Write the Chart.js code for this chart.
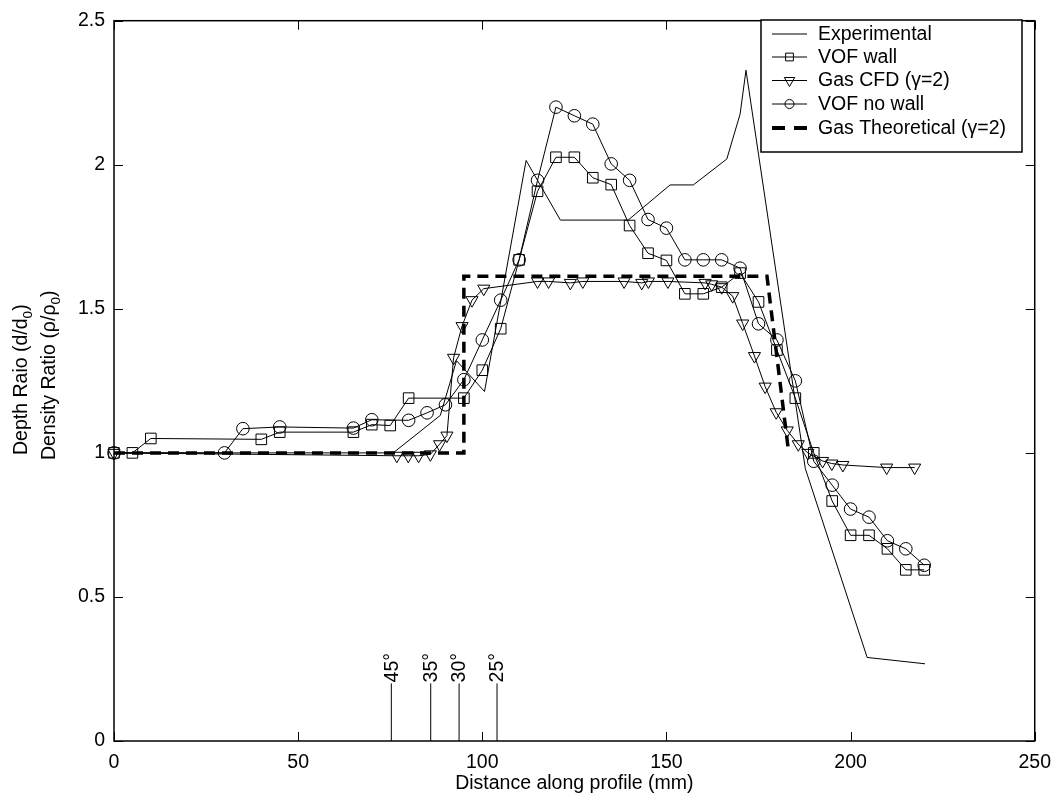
<!DOCTYPE html>
<html>
<head>
<meta charset="utf-8">
<script src="https://cdn.jsdelivr.net/npm/chart.js@4.4.0/dist/chart.umd.min.js"></script>
<style>
html, body { margin: 0; padding: 0; background: #fff; }
#wrap { width: 1061px; height: 802px; }
</style>
</head>
<body>
<div id="wrap"><canvas id="profileChart" width="1061" height="802"></canvas></div>
<script>
// values (x = mm along profile, y = ratio)
var expX = [0, 75.8, 88.6, 93.0, 100.6, 111.9, 121.2, 139.6, 151.0, 157.3, 166.4, 170.0, 171.6, 187.7, 204.5, 220.2];
var expY = [1.0, 1.0, 1.13, 1.32, 1.213, 2.015, 1.808, 1.808, 1.93, 1.93, 2.02, 2.176, 2.328, 0.946, 0.29, 0.268];

var wallX = [0, 5, 10, 40, 45, 65, 70, 75, 80, 95, 100, 105, 110, 115, 120, 125, 130, 135, 140, 145, 150, 155, 160, 165, 170, 175, 180, 185, 190, 195, 200, 205, 210, 215, 220];
var wallY = [1.0, 1.0, 1.05, 1.047, 1.072, 1.072, 1.098, 1.095, 1.19, 1.19, 1.287, 1.431, 1.67, 1.908, 2.026, 2.026, 1.955, 1.931, 1.789, 1.693, 1.668, 1.552, 1.552, 1.575, 1.624, 1.524, 1.357, 1.19, 1.0, 0.833, 0.714, 0.714, 0.667, 0.594, 0.594];

var cfdX = [0, 76.8, 79.9, 82.7, 85.9, 88.4, 90.4, 92.2, 94.5, 97.2, 100.4, 115.0, 118.0, 123.9, 127.3, 138.5, 143.3, 145.1, 150.4, 160.5, 162.3, 165.0, 168.0, 170.7, 173.9, 176.8, 179.8, 182.8, 185.8, 188.4, 192.4, 194.9, 197.9, 209.8, 217.4];
var cfdY = [1.0, 0.99, 0.99, 0.99, 0.995, 1.03, 1.06, 1.33, 1.44, 1.53, 1.57, 1.595, 1.595, 1.59, 1.595, 1.595, 1.59, 1.595, 1.595, 1.59, 1.585, 1.575, 1.544, 1.449, 1.336, 1.23, 1.141, 1.078, 1.03, 1.0, 0.972, 0.963, 0.958, 0.949, 0.949];

var noWallX = [0, 30, 35, 45, 65, 70, 80, 85, 90, 95, 100, 105, 110, 115, 120, 125, 130, 135, 140, 145, 150, 155, 160, 165, 170, 175, 180, 185, 190, 195, 200, 205, 210, 215, 220];
var noWallY = [1.0, 1.0, 1.084, 1.09, 1.086, 1.115, 1.113, 1.139, 1.167, 1.254, 1.392, 1.53, 1.67, 1.946, 2.2, 2.17, 2.141, 2.003, 1.946, 1.81, 1.78, 1.67, 1.67, 1.67, 1.641, 1.448, 1.392, 1.25, 0.971, 0.888, 0.805, 0.777, 0.695, 0.667, 0.61];

var theoX = [0, 95, 95, 177.3, 183.2];
var theoY = [1.0, 1.0, 1.613, 1.613, 1.0];

// angle markers along the bottom
var angleX = [75.3, 86, 93.7, 104];
var angleLabels = ['45°', '35°', '30°', '25°'];
var angleTop = 0.2;

var xTicks = [0, 50, 100, 150, 200, 250];
var yTicks = [0, 0.5, 1, 1.5, 2, 2.5];

var FONT = "'Liberation Sans', Arial, Helvetica, sans-serif";
var FSIZE = 19.5;

function pts(xs, ys) {
    return xs.map(function (x, i) { return { x: x, y: ys[i] }; });
}

var seriesInfo = [
    { label: 'Experimental', style: false },
    { label: 'VOF wall', style: 'rect', radius: 5.5, rot: 0 },
    { label: 'Gas CFD (γ=2)', style: 'triangle', radius: 6, rot: 180 },
    { label: 'VOF no wall', style: 'circle', radius: 4.5, rot: 0 },
    { label: 'Gas Theoretical (γ=2)', style: false, dashed: true }
];

var datasets = [
    {
        label: 'Experimental', data: pts(expX, expY),
        borderColor: '#000', borderWidth: 1, pointRadius: 0, clip: false
    },
    {
        label: 'VOF wall', data: pts(wallX, wallY),
        borderColor: '#000', borderWidth: 1, pointStyle: 'rect', pointRadius: 7.5,
        pointBorderColor: '#000', pointBackgroundColor: 'rgba(0,0,0,0)', pointBorderWidth: 1, clip: false
    },
    {
        label: 'Gas CFD (γ=2)', data: pts(cfdX, cfdY),
        borderColor: '#000', borderWidth: 1, pointStyle: 'triangle', pointRotation: 180, pointRadius: 7,
        pointBorderColor: '#000', pointBackgroundColor: 'rgba(0,0,0,0)', pointBorderWidth: 1, clip: false
    },
    {
        label: 'VOF no wall', data: pts(noWallX, noWallY),
        borderColor: '#000', borderWidth: 1, pointStyle: 'circle', pointRadius: 6.3,
        pointBorderColor: '#000', pointBackgroundColor: 'rgba(0,0,0,0)', pointBorderWidth: 1, clip: false
    },
    {
        label: 'Gas Theoretical (γ=2)', data: pts(theoX, theoY),
        borderColor: '#000', borderWidth: 3.5, borderDash: [11, 7], pointRadius: 0, clip: false
    }
];

// vertical angle lines, one small dataset each
angleX.forEach(function (ax) {
    datasets.push({
        label: '', data: [{ x: ax, y: 0 }, { x: ax, y: angleTop }],
        borderColor: '#000', borderWidth: 1, pointRadius: 0
    });
});

// box + inward ticks, MATLAB style
var framePlugin = {
    id: 'frame',
    afterDraw: function (chart) {
        var c = chart.ctx, a = chart.chartArea;
        var xs = chart.scales.x, ys = chart.scales.y;
        c.save();
        c.strokeStyle = '#000';
        c.lineWidth = 1;
        c.beginPath();
        xTicks.forEach(function (v) {
            var px = Math.round(xs.getPixelForValue(v)) + 0.5;
            c.moveTo(px, a.bottom); c.lineTo(px, a.bottom - 9);
            c.moveTo(px, a.top); c.lineTo(px, a.top + 9);
        });
        yTicks.forEach(function (v) {
            var py = Math.round(ys.getPixelForValue(v)) + 0.5;
            c.moveTo(a.left, py); c.lineTo(a.left + 9, py);
            c.moveTo(a.right, py); c.lineTo(a.right - 9, py);
        });
        c.stroke();
        c.lineWidth = 1.5;
        c.strokeRect(a.left, a.top, a.right - a.left, a.bottom - a.top);
        c.restore();
    }
};

function drawParts(c, parts, x, y) {
    var cur = x;
    parts.forEach(function (p) {
        if (p.sub) {
            c.font = (FSIZE * 0.7) + 'px ' + FONT;
            c.fillText(p.t, cur, y + FSIZE * 0.25);
        } else {
            c.font = FSIZE + 'px ' + FONT;
            c.fillText(p.t, cur, y);
        }
        cur += c.measureText(p.t).width;
    });
}

var textPlugin = {
    id: 'texts',
    afterDraw: function (chart) {
        var c = chart.ctx;
        var xs = chart.scales.x, ys = chart.scales.y;
        c.save();
        c.fillStyle = '#000';
        c.textBaseline = 'alphabetic';
        c.textAlign = 'left';

        // y axis title, two rotated lines with subscripts
        var line1 = [{ t: 'Depth Raio (d/d' }, { t: '0', sub: true }, { t: ')' }];
        var line2 = [{ t: 'Density Ratio (ρ/ρ' }, { t: '0', sub: true }, { t: ')' }];
        c.save(); c.translate(27, 455); c.rotate(-Math.PI / 2); drawParts(c, line1, 0, 0); c.restore();
        c.save(); c.translate(55, 460); c.rotate(-Math.PI / 2); drawParts(c, line2, 0, 0); c.restore();

        // angle labels
        c.font = FSIZE + 'px ' + FONT;
        c.textBaseline = 'middle';
        angleX.forEach(function (ax, i) {
            var px = xs.getPixelForValue(ax);
            var py = ys.getPixelForValue(angleTop);
            c.save(); c.translate(px + 1, py - 1); c.rotate(-Math.PI / 2);
            c.fillText(angleLabels[i], 0, 0);
            c.restore();
        });

        // legend
        var bx = 761, by = 20, bw = 261, bh = 132;
        c.fillStyle = '#fff';
        c.fillRect(bx, by, bw, bh);
        c.strokeStyle = '#000';
        c.lineWidth = 1.5;
        c.strokeRect(bx, by, bw, bh);
        var rows = [33.5, 56.5, 80, 103.5, 128];
        seriesInfo.forEach(function (s, i) {
            var ry = rows[i];
            c.strokeStyle = '#000';
            c.beginPath();
            if (s.dashed) {
                c.lineWidth = 4;
                c.moveTo(772, ry); c.lineTo(785, ry);
                c.moveTo(794, ry); c.lineTo(807, ry);
            } else {
                c.lineWidth = 1;
                c.moveTo(772, ry + 0.5); c.lineTo(807, ry + 0.5);
            }
            c.stroke();
            if (s.style) {
                c.lineWidth = 1;
                c.fillStyle = 'rgba(0,0,0,0)';
                Chart.helpers.drawPoint(c, { pointStyle: s.style, radius: s.radius, rotation: s.rot, borderWidth: 1 }, 789.5, ry + 0.5);
            }
            c.fillStyle = '#000';
            c.font = FSIZE + 'px ' + FONT;
            c.textBaseline = 'middle';
            c.fillText(s.label, 818, ry + 1);
        });
        c.restore();
    }
};

var ctx = document.getElementById('profileChart').getContext('2d');
var chart = new Chart(ctx, {
    type: 'line',
    data: { datasets: datasets },
    options: {
        responsive: false,
        animation: false,
        devicePixelRatio: 1,
        layout: { padding: { top: 16, right: 25, left: 0, bottom: 0 } },
        elements: { line: { tension: 0 } },
        plugins: {
            legend: { display: false },
            tooltip: { enabled: false }
        },
        scales: {
            x: {
                type: 'linear', min: 0, max: 250,
                ticks: { stepSize: 50, color: '#000', font: { family: FONT, size: FSIZE }, padding: 10, maxRotation: 0 },
                grid: { display: false, drawTicks: false },
                border: { display: false },
                title: {
                    display: true, text: 'Distance along profile (mm)', color: '#000',
                    font: { family: FONT, size: FSIZE }, padding: { top: 0, bottom: 7 }
                },
                afterFit: function (s) { s.height = 61; }
            },
            y: {
                type: 'linear', min: 0, max: 2.5,
                ticks: {
                    stepSize: 0.5, color: '#000', font: { family: FONT, size: FSIZE }, padding: 9,
                    callback: function (v) { return String(v); }
                },
                grid: { display: false, drawTicks: false },
                border: { display: false },
                afterFit: function (s) { s.width = 114; }
            }
        }
    },
    plugins: [framePlugin, textPlugin]
});
</script>
</body>
</html>
